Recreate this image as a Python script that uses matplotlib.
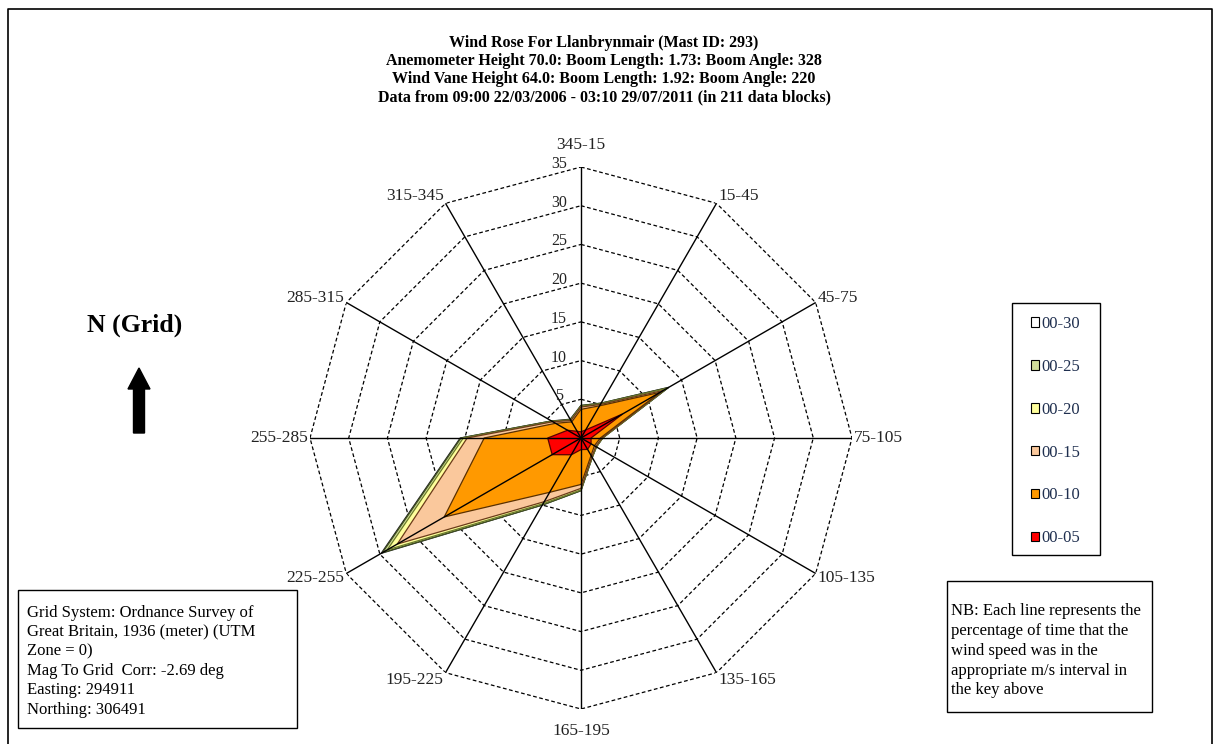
import numpy as np
import matplotlib
matplotlib.use("Agg")
import matplotlib.pyplot as plt
from matplotlib.patches import Rectangle, FancyArrow, Patch
from matplotlib.lines import Line2D
from matplotlib.transforms import offset_copy

plt.rcParams["font.family"] = ["Liberation Serif", "DejaVu Serif"]

# direction sectors, clockwise from north
sectors = ["345-15", "15-45", "45-75", "75-105", "105-135", "135-165",
           "165-195", "195-225", "225-255", "255-285", "285-315", "315-345"]

# cumulative percentage of time per sector
s_00_05 = [0.8, 1.2, 6.2, 1.3, 1.5, 1.7, 1.5, 2.5, 4.3, 4.3, 2.0, 1.0]
s_00_10 = [3.7, 4.8, 11.8, 2.5, 2.0, 2.6, 6.0, 8.1, 20.4, 12.5, 3.8, 2.4]
s_00_15 = [4.0, 5.0, 12.3, 2.7, 2.2, 2.8, 6.5, 9.5, 27.4, 14.7, 4.2, 2.6]
s_00_20 = [4.1, 5.1, 12.8, 2.8, 2.3, 2.9, 6.7, 9.8, 28.9, 15.2, 4.3, 2.7]
s_00_25 = [4.2, 5.2, 13.0, 2.8, 2.3, 2.9, 6.8, 10.0, 29.6, 15.5, 4.4, 2.7]
s_00_30 = [4.2, 5.2, 13.1, 2.8, 2.3, 2.9, 6.8, 10.0, 29.8, 15.6, 4.4, 2.8]

series_names = ["00-05", "00-10", "00-15", "00-20", "00-25", "00-30"]
series_vals = [s_00_05, s_00_10, s_00_15, s_00_20, s_00_25, s_00_30]
fill_colors = ["#FF0000", "#FF9900", "#FAC89C", "#FFFF9C", "#D2DE9A", "#FFFFFF"]
edge_colors = ["#5A0000", "#5A3000", "#6B3A1A", "#6B7A2A", "#3F4F1F", "#222222"]

rings = [5, 10, 15, 20, 25, 30, 35]

title_lines = [
    "Wind Rose For Llanbrynmair (Mast ID: 293)",
    "Anemometer Height 70.0: Boom Length: 1.73: Boom Angle: 328",
    "Wind Vane Height 64.0: Boom Length: 1.92: Boom Angle: 220",
    "Data from 09:00 22/03/2006 - 03:10 29/07/2011 (in 211 data blocks)",
]

grid_text = ("Grid System: Ordnance Survey of\nGreat Britain, 1936 (meter) (UTM\n"
             "Zone = 0)\nMag To Grid  Corr: -2.69 deg\nEasting: 294911\nNorthing: 306491")
nb_text = ("NB: Each line represents the\npercentage of time that the\n"
           "wind speed was in the\nappropriate m/s interval in\nthe key above")

W, H = 1217, 744
fig = plt.figure(figsize=(W / 100, H / 100), dpi=100)


def fx(x):
    return x / W


def fy(y):
    return 1 - y / H


# polar axes placed so that centre / radius match the reference
cx, cy, rad = 581, 438, 271
ax = fig.add_axes([fx(cx - rad), fy(cy + rad), 2 * rad / W, 2 * rad / H], projection="polar")
ax.set_theta_zero_location("N")
ax.set_theta_direction(-1)
ax.set_ylim(0, 35)
ax.axis("off")

theta = np.deg2rad(np.arange(len(sectors)) * 30)
theta_c = np.append(theta, theta[0])

# dashed dodecagon rings
for r in rings:
    ax.plot(theta_c, [r] * len(theta_c), color="black", lw=0.9,
            linestyle=(0, (3, 2)), zorder=1)

# filled series, largest first
handles = []
for i in range(len(series_vals) - 1, -1, -1):
    vals = np.append(series_vals[i], series_vals[i][0])
    ax.fill(theta_c, vals, facecolor=fill_colors[i], edgecolor=edge_colors[i],
            lw=0.9, zorder=2 + (len(series_vals) - i))
    handles.append(Patch(facecolor=fill_colors[i], edgecolor="black", lw=0.8,
                         label=series_names[i]))

# spokes on top
for t in theta:
    ax.plot([t, t], [0, 35], color="black", lw=1.0, zorder=20)

# radial value labels
lab_tr = offset_copy(ax.transData, fig=fig, x=-22, y=3, units="dots")
for r in rings:
    ax.text(0, r, str(r), transform=lab_tr, ha="center", va="center",
            fontsize=11.5, color="#222222", zorder=21)

# sector labels just outside the outer ring
for t, lab in zip(theta, sectors):
    s, c = np.sin(t), np.cos(t)
    if abs(s) < 0.3:
        ha, ox, oy = "center", 0, 22 * np.sign(c)
    else:
        ha, ox, oy = ("left" if s > 0 else "right"), 2 * np.sign(s), 9 * c
    tr = offset_copy(ax.transData, fig=fig, x=ox, y=oy, units="dots")
    ax.text(t, 35, lab, transform=tr, ha=ha, va="center", fontsize=12.5,
            color="#222222", clip_on=False)

# title
for k, line in enumerate(title_lines):
    fig.text(fx(604), fy(43 + k * 18), line, ha="center", va="center",
             fontsize=11.5, fontweight="bold")

# outer frame
fig.add_artist(Line2D([fx(8), fx(8), fx(1212), fx(1212)], [0, fy(9), fy(9), 0],
                      transform=fig.transFigure, color="black", lw=1.2))

# N (Grid) and arrow
fig.text(fx(135), fy(325), "N (Grid)", ha="center", va="center", fontsize=18.5,
         fontweight="bold")
fig.add_artist(FancyArrow(1.39, (H - 433) / 100, 0, 0.65, width=0.11,
                          head_width=0.22, head_length=0.21,
                          length_includes_head=True, color="black",
                          transform=fig.dpi_scale_trans))

# legend box + legend entries
fig.add_artist(Rectangle((fx(1012), fy(555)), fx(1100) - fx(1012), fy(303) - fy(555),
                         transform=fig.transFigure, facecolor="white",
                         edgecolor="black", lw=1.0))
leg = fig.legend(handles=handles, loc="upper left",
                 bbox_to_anchor=(fx(1031), fy(316)), frameon=False,
                 fontsize=12, handlelength=0.5, handleheight=0.5,
                 handletextpad=0.15, labelspacing=1.61, borderpad=0,
                 borderaxespad=0)
for txt in leg.get_texts():
    txt.set_color("#1F2F4F")

# info boxes
fig.add_artist(Rectangle((fx(18), fy(728)), fx(297) - fx(18), fy(590) - fy(728),
                         transform=fig.transFigure, facecolor="white",
                         edgecolor="black", lw=1.0))
fig.text(fx(27), fy(605), grid_text, ha="left", va="top", fontsize=12,
         linespacing=1.28)

fig.add_artist(Rectangle((fx(947), fy(712)), fx(1152) - fx(947), fy(581) - fy(712),
                         transform=fig.transFigure, facecolor="white",
                         edgecolor="black", lw=1.0))
fig.text(fx(951), fy(603), nb_text, ha="left", va="top", fontsize=12,
         linespacing=1.32)

fig.savefig("out.png", dpi=100)
